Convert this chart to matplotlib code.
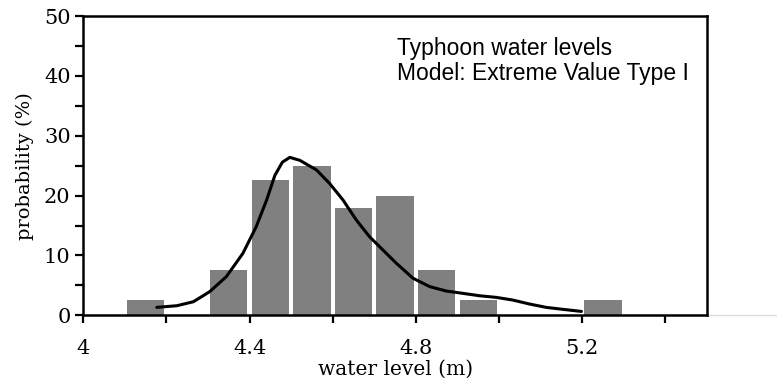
import matplotlib
matplotlib.use("Agg")
import matplotlib.pyplot as plt
from matplotlib.lines import Line2D

# Histogram data (bin centres in m, probability in %)
bin_centers = [4.15, 4.35, 4.45, 4.55, 4.65, 4.75, 4.85, 4.95, 5.25]
probabilities = [2.55, 7.6, 22.6, 25.0, 17.9, 20.0, 7.6, 2.55, 2.55]

# Fitted Extreme Value Type I curve
curve_x = [4.177, 4.225, 4.265, 4.304, 4.344, 4.384, 4.416, 4.441, 4.461, 4.479,
           4.497, 4.521, 4.561, 4.593, 4.625, 4.657, 4.689, 4.721, 4.753, 4.793,
           4.833, 4.873, 4.913, 4.953, 4.993, 5.033, 5.073, 5.113, 5.153, 5.198]
curve_y = [1.33, 1.6, 2.27, 3.94, 6.44, 10.35, 14.8, 19.25, 23.4, 25.6,
           26.4, 25.9, 24.3, 22.0, 19.25, 15.9, 13.1, 10.9, 8.7, 6.2,
           4.8, 4.06, 3.67, 3.27, 3.0, 2.55, 1.89, 1.33, 1.0, 0.65]

xticks_major = [4.0, 4.4, 4.8, 5.2]
xtick_labels = ["4", "4.4", "4.8", "5.2"]
yticks_major = [0, 10, 20, 30, 40, 50]

serif = ["DejaVu Serif"]

fig = plt.figure(figsize=(7.77, 3.85), dpi=100)
ax = fig.add_axes([0.107, 0.181, 0.803, 0.777])

ax.bar(bin_centers, probabilities, width=0.09, color="#808080", edgecolor="none", zorder=2)
ax.plot(curve_x, curve_y, color="black", lw=2.2, zorder=3,
        solid_capstyle="round", solid_joinstyle="round")

ax.set_xlim(4.0, 5.5)
ax.set_ylim(0, 50)
ax.set_xticks(xticks_major)
ax.set_xticklabels(xtick_labels)
ax.set_xticks([4.2, 4.6, 5.0, 5.4], minor=True)
ax.set_yticks(yticks_major)
ax.set_yticks([5, 15, 25, 35, 45], minor=True)

for s in ax.spines.values():
    s.set_linewidth(1.8)
ax.tick_params(axis="both", which="both", direction="out", width=1.6, length=6,
               labelsize=15, pad=3)
for lbl in ax.get_xticklabels() + ax.get_yticklabels():
    lbl.set_family(serif)
ax.tick_params(axis="x", pad=11)

ax.set_xlabel("water level (m)", family=serif, fontsize=14.5, labelpad=1)
ax.set_ylabel("probability (%)", family=serif, fontsize=14, labelpad=7)

ax.text(0.503, 0.932, "Typhoon water levels\nModel: Extreme Value Type I",
        transform=ax.transAxes, ha="left", va="top", fontsize=16.5,
        family=["Liberation Sans"], linespacing=1.12)

# faint baseline continuing past the right axis
fig.add_artist(Line2D([0.912, 1.0], [0.181, 0.181], color="#dddddd", lw=1))

fig.savefig("out.png", dpi=100)
